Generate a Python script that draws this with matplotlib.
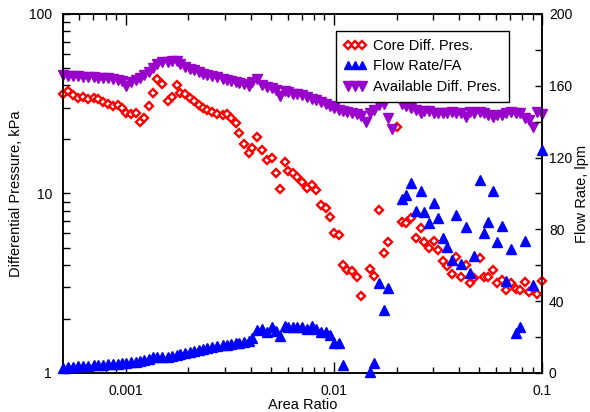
import matplotlib
matplotlib.use("Agg")
import matplotlib.pyplot as plt
from matplotlib.ticker import FixedLocator, FuncFormatter, LogLocator, MultipleLocator, NullFormatter

plt.rcParams['font.family'] = ['Liberation Sans', 'DejaVu Sans']

# core differential pressure, kPa
core_x = [0.000500, 0.000527, 0.000557, 0.000589, 0.000622, 0.000657, 0.000703, 0.000734,
          0.000776, 0.000820, 0.000866, 0.000916, 0.000957, 0.00100, 0.00106, 0.00112,
          0.00117, 0.00122, 0.00130, 0.00136, 0.00142, 0.00149, 0.00159, 0.00166,
          0.00176, 0.00183, 0.00192, 0.00203, 0.00212, 0.00224, 0.00236, 0.00247,
          0.00261, 0.00276, 0.00292, 0.00308, 0.00322, 0.00337, 0.00352, 0.00372,
          0.00393, 0.00406, 0.00429, 0.00453, 0.00479, 0.00506, 0.00529, 0.00553,
          0.00584, 0.00604, 0.00638, 0.00667, 0.00705, 0.00745, 0.00787, 0.00823,
          0.00869, 0.00919, 0.00960, 0.0100, 0.0106, 0.0111, 0.0116, 0.0122,
          0.0129, 0.0135, 0.0149, 0.0156, 0.0165, 0.0174, 0.0182, 0.0201,
          0.0213, 0.0222, 0.0235, 0.0248, 0.0262, 0.0271, 0.0286, 0.0302,
          0.0316, 0.0334, 0.0349, 0.0369, 0.0386, 0.0407, 0.0430, 0.0450,
          0.0470, 0.0502, 0.0525, 0.0549, 0.0580, 0.0606, 0.0640, 0.0669,
          0.0707, 0.0747, 0.0781, 0.0825, 0.0863, 0.0942, 0.100]
core_dp = [35.8, 37.2, 35.4, 34.0, 34.5, 33.6, 34.0, 33.6,
           32.3, 31.5, 30.7, 31.1, 29.9, 28.1, 27.7, 28.1,
           25.0, 26.3, 30.7, 36.3, 43.4, 40.7, 32.8, 34.5,
           40.2, 36.3, 35.8, 34.0, 32.8, 31.1, 29.9, 29.2,
           28.4, 27.7, 27.4, 27.7, 26.3, 24.7, 21.7, 18.9,
           16.8, 17.9, 20.6, 17.5, 15.4, 15.8, 13.0, 10.6,
           15.0, 13.3, 13.0, 12.4, 11.6, 10.7, 11.2, 10.5,
           8.63, 8.30, 7.40, 6.03, 5.87, 4.00, 3.75, 3.70,
           3.43, 2.69, 3.80, 3.47, 8.09, 4.66, 5.37, 23.5,
           6.94, 6.85, 7.30, 5.65, 6.43, 5.37, 4.97, 5.44,
           4.84, 4.21, 3.95, 3.56, 4.43, 3.43, 4.00, 3.17,
           3.38, 4.37, 3.43, 3.43, 3.75, 3.17, 3.30, 2.90,
           3.17, 2.94, 2.90, 3.21, 2.83, 2.75, 3.25]

# available differential pressure, kPa
avail_x = [0.000500, 0.000527, 0.000557, 0.000589, 0.000622, 0.000657, 0.000703, 0.000734,
           0.000776, 0.000820, 0.000866, 0.000916, 0.000957, 0.00100, 0.00106, 0.00112,
           0.00117, 0.00122, 0.00130, 0.00136, 0.00142, 0.00149, 0.00159, 0.00166,
           0.00176, 0.00183, 0.00192, 0.00203, 0.00212, 0.00224, 0.00236, 0.00247,
           0.00261, 0.00276, 0.00292, 0.00308, 0.00322, 0.00337, 0.00352, 0.00372,
           0.00393, 0.00406, 0.00429, 0.00453, 0.00479, 0.00506, 0.00529, 0.00553,
           0.00584, 0.00604, 0.00638, 0.00667, 0.00705, 0.00745, 0.00787, 0.00823,
           0.00869, 0.00919, 0.00960, 0.0100, 0.0106, 0.0111, 0.0116, 0.0122,
           0.0129, 0.0135, 0.0143, 0.0149, 0.0156, 0.0165, 0.0174, 0.0182,
           0.0190, 0.0213, 0.0222, 0.0235, 0.0248, 0.0262, 0.0271, 0.0286,
           0.0302, 0.0316, 0.0334, 0.0349, 0.0369, 0.0386, 0.0407, 0.0430,
           0.0450, 0.0470, 0.0502, 0.0525, 0.0549, 0.0580, 0.0606, 0.0640,
           0.0669, 0.0707, 0.0747, 0.0781, 0.0825, 0.0863, 0.0902, 0.0942, 0.100]
avail_dp = [45.7, 45.2, 45.2, 45.2, 44.6, 44.6, 44.6, 44.0,
            44.0, 44.0, 43.4, 42.9, 42.3, 39.7, 41.8, 42.9,
            44.0, 45.7, 47.5, 50.0, 52.7, 54.0, 54.0, 54.7,
            54.7, 52.7, 50.7, 49.4, 48.8, 47.5, 46.3, 45.7,
            45.2, 44.6, 43.4, 42.9, 42.3, 41.8, 41.3, 40.7,
            39.7, 41.8, 43.4, 40.2, 39.2, 38.7, 37.7, 34.9,
            37.2, 36.8, 35.8, 35.8, 35.4, 34.5, 33.6, 33.2,
            32.3, 31.5, 30.7, 29.9, 29.2, 28.8, 28.4, 28.1,
            27.7, 27.0, 25.0, 28.1, 29.2, 31.1, 31.5, 26.3,
            22.9, 31.5, 30.7, 29.9, 29.2, 28.1, 28.8, 28.8,
            28.1, 28.1, 28.1, 28.1, 28.4, 28.1, 28.1, 26.7,
            28.4, 28.1, 28.4, 28.1, 27.4, 26.7, 27.4, 27.4,
            28.1, 28.4, 28.1, 28.1, 26.3, 25.7, 23.5, 28.4, 27.7]

# flow rate per flow area, lpm
flow_x = [0.000500, 0.000527, 0.000557, 0.000589, 0.000622, 0.000657, 0.000703, 0.000734,
          0.000776, 0.000820, 0.000866, 0.000916, 0.000957, 0.00100, 0.00106, 0.00112,
          0.00117, 0.00122, 0.00130, 0.00136, 0.00142, 0.00149, 0.00159, 0.00166,
          0.00176, 0.00183, 0.00192, 0.00203, 0.00212, 0.00224, 0.00236, 0.00247,
          0.00261, 0.00276, 0.00292, 0.00308, 0.00322, 0.00337, 0.00352, 0.00372,
          0.00393, 0.00406, 0.00429, 0.00453, 0.00479, 0.00506, 0.00529, 0.00553,
          0.00584, 0.00604, 0.00638, 0.00667, 0.00705, 0.00745, 0.00787, 0.00823,
          0.00869, 0.00919, 0.00960, 0.0100, 0.0106, 0.0111, 0.0149, 0.0156,
          0.0165, 0.0174, 0.0182, 0.0213, 0.0222, 0.0235, 0.0248, 0.0262,
          0.0271, 0.0286, 0.0302, 0.0316, 0.0334, 0.0349, 0.0369, 0.0386,
          0.0407, 0.0430, 0.0450, 0.0470, 0.0502, 0.0525, 0.0549, 0.0580,
          0.0606, 0.0640, 0.0669, 0.0707, 0.0747, 0.0781, 0.0825, 0.0902, 0.100]
flow_rate = [2.8, 3.3, 3.3, 3.9, 3.9, 3.9, 4.5, 4.5,
             4.5, 5.0, 5.0, 5.0, 5.6, 5.6, 6.1, 6.1,
             6.7, 7.2, 7.8, 8.9, 8.9, 8.9, 8.9, 9.5,
             10.0, 10.6, 11.1, 11.7, 12.3, 12.8, 13.4, 13.9,
             14.5, 15.0, 15.6, 15.6, 16.2, 16.7, 16.7, 17.3,
             17.8, 19.5, 24.0, 24.5, 22.8, 25.6, 23.4, 20.6,
             26.2, 25.6, 25.6, 25.6, 25.6, 24.5, 26.2, 24.5,
             22.8, 22.8, 21.2, 16.7, 16.7, 4.5, 0.6, 5.6,
             50.1, 35.1, 47.4, 96.9, 99.2, 105.8, 90.3, 101.4,
             89.7, 83.6, 94.7, 86.4, 75.2, 70.2, 63.0, 88.0,
             60.7, 81.3, 55.7, 65.2, 107.5, 78.0, 84.1, 101.4,
             73.0, 81.9, 51.3, 69.1, 22.3, 25.6, 73.5, 49.0, 124.2]

fig = plt.figure(figsize=(5.9, 4.12), dpi=100)
ax = fig.add_axes([0.1068, 0.0947, 0.8119, 0.8714])

core_line, = ax.plot(core_x, core_dp, linestyle='none', marker='D', ms=4.4,
                     mfc='white', mec='#FF0000', mew=1.7, clip_on=False, zorder=3,
                     label='Core Diff. Pres.')
avail_line, = ax.plot(avail_x, avail_dp, linestyle='none', marker='v', ms=7.8,
                      color='#9900CC', mec='#9900CC', clip_on=False, zorder=4,
                      label='Available Diff. Pres.')

ax.set_xscale('log')
ax.set_yscale('log')
ax.set_xlim(0.0005, 0.1)
ax.set_ylim(1, 100)
ax.xaxis.set_major_locator(FixedLocator([0.001, 0.01, 0.1]))
ax.xaxis.set_major_formatter(FuncFormatter(lambda v, p: '%g' % v))
ax.xaxis.set_minor_locator(LogLocator(base=10, subs=range(2, 10)))
ax.xaxis.set_minor_formatter(NullFormatter())
ax.yaxis.set_major_locator(FixedLocator([1, 10, 100]))
ax.yaxis.set_major_formatter(FuncFormatter(lambda v, p: '%g' % v))
ax.yaxis.set_minor_locator(LogLocator(base=10, subs=range(2, 10)))
ax.yaxis.set_minor_formatter(NullFormatter())

ax.tick_params(axis='x', which='major', direction='in', top=True, length=8, width=1,
               labelsize=10, pad=8)
ax.tick_params(axis='x', which='minor', direction='in', top=True, length=4.5, width=1)
ax.tick_params(axis='y', which='both', direction='in', right=False, length=5, width=1,
               labelsize=10, pad=8)

ax2 = ax.twinx()
flow_line, = ax2.plot(flow_x, flow_rate, linestyle='none', marker='^', ms=6.5,
                      color='#0000FF', clip_on=False, zorder=5, label='Flow Rate/FA')
ax2.set_ylim(0, 200)
ax2.yaxis.set_major_locator(MultipleLocator(40))
ax2.yaxis.set_minor_locator(MultipleLocator(20))
ax2.tick_params(axis='y', which='both', direction='in', length=5, width=1,
                labelsize=10, pad=5)

for a in (ax, ax2):
    for s in a.spines.values():
        s.set_linewidth(1.1)

ax.set_xlabel('Area Ratio', fontsize=10.5, labelpad=0)
ax.set_ylabel('Differential Pressure, kPa', fontsize=10.5, labelpad=4)
ax2.set_ylabel('Flow Rate, lpm', fontsize=10.5, labelpad=2)

leg = ax2.legend([core_line, flow_line, avail_line],
                 ['Core Diff. Pres.', 'Flow Rate/FA', 'Available Diff. Pres.'],
                 loc='upper left', bbox_to_anchor=(0.570, 0.953), borderaxespad=0,
                 numpoints=3, fancybox=False, framealpha=1, edgecolor='black',
                 fontsize=10.5, handlelength=1.5, handletextpad=0.5, borderpad=0.55,
                 labelspacing=0.45, markerscale=0.95)
leg.get_frame().set_linewidth(1)

fig.savefig('out.png', dpi=100)
